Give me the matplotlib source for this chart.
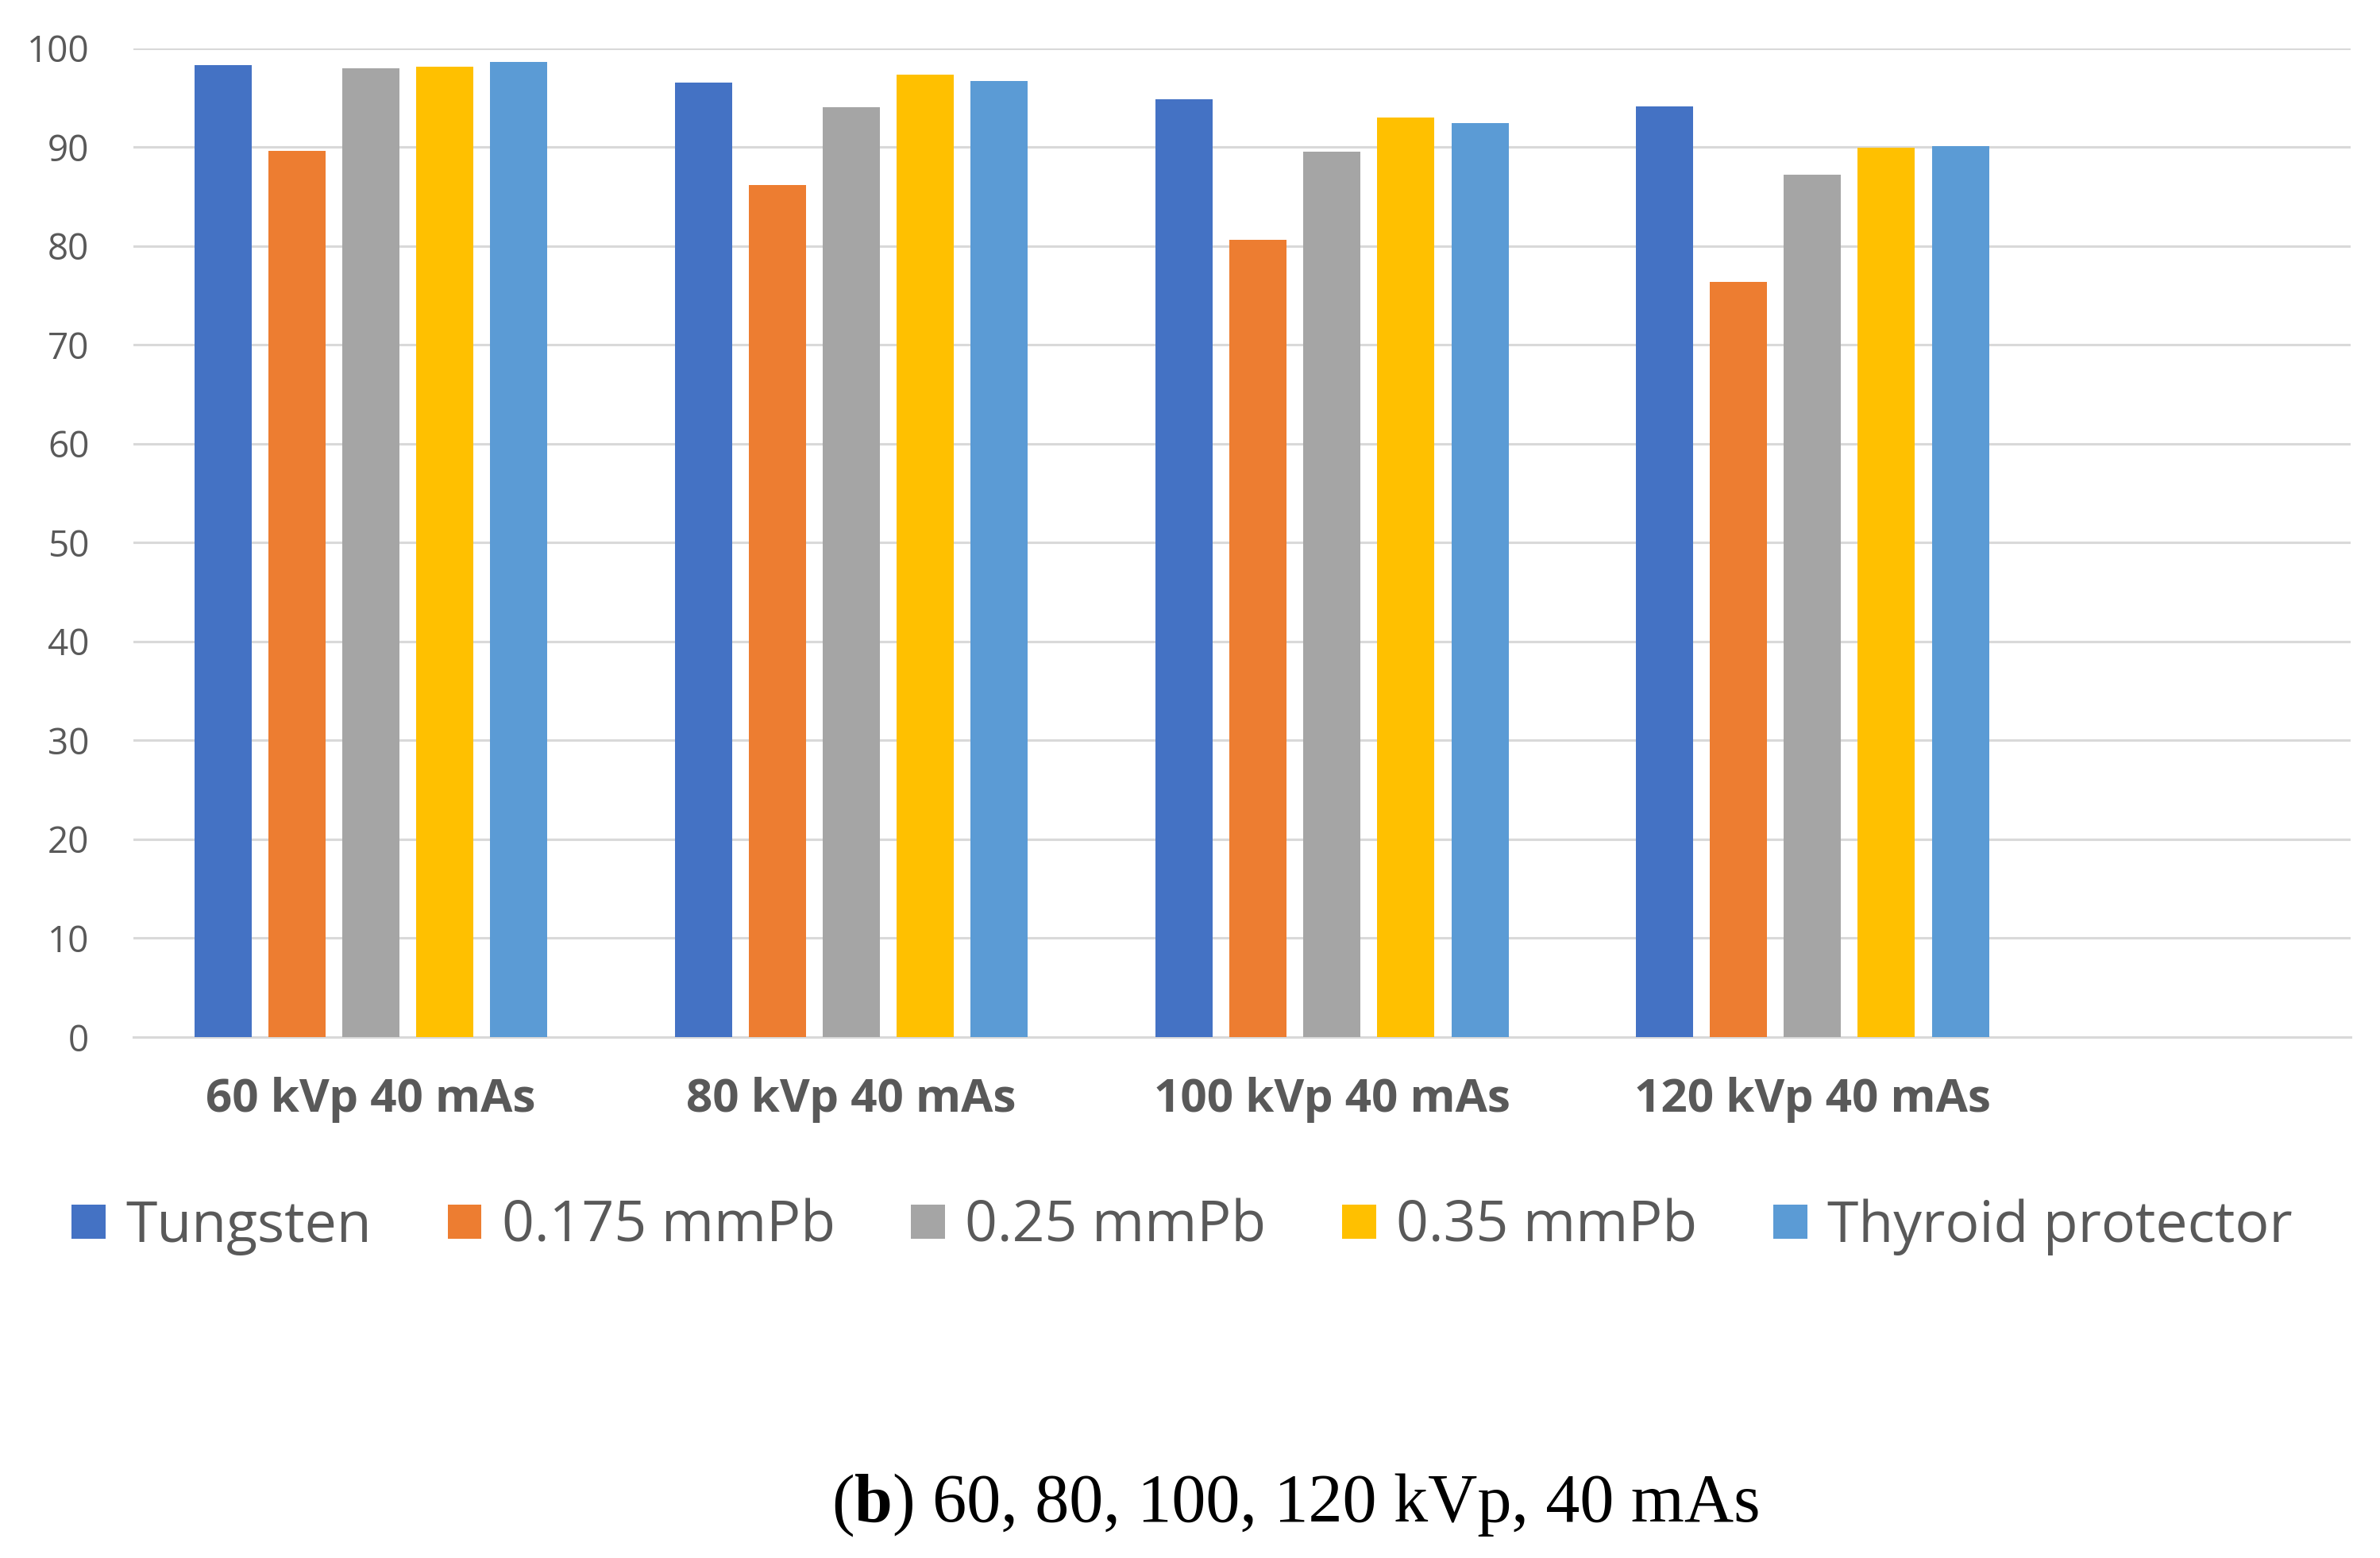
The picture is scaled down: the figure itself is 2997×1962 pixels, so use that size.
import matplotlib
matplotlib.use("Agg")
import matplotlib.pyplot as plt
import numpy as np
from matplotlib.patches import Patch

categories = ["60 kVp 40 mAs", "80 kVp 40 mAs", "100 kVp 40 mAs", "120 kVp 40 mAs"]
series_names = ["Tungsten", "0.175 mmPb", "0.25 mmPb", "0.35 mmPb", "Thyroid protector"]
tungsten = [98.3, 96.5, 94.8, 94.1]
pb_0175 = [89.6, 86.2, 80.6, 76.4]
pb_025 = [98.0, 94.0, 89.5, 87.2]
pb_035 = [98.1, 97.3, 93.0, 89.9]
thyroid = [98.6, 96.7, 92.4, 90.1]
yticks = [0, 10, 20, 30, 40, 50, 60, 70, 80, 90, 100]
caption_bold = "b"
caption_rest = ") 60, 80, 100, 120 kVp, 40 mAs"

colors = ["#4472C4", "#ED7D31", "#A5A5A5", "#FFC000", "#5B9BD5"]
series = [tungsten, pb_0175, pb_025, pb_035, thyroid]

W, H = 2997, 1962
dpi = 100
fig = plt.figure(figsize=(W / dpi, H / dpi), dpi=dpi)
fig.patch.set_facecolor("white")

left, right = 168 / W, 2960 / W
bottom = 1 - 1306 / H
top = 1 - 60.7 / H
ax = fig.add_axes([left, bottom, right - left, top - bottom])

x = np.arange(len(categories))
bw = 0.119
pitch = 0.154
for i, (vals, c) in enumerate(zip(series, colors)):
    ax.bar(x + (i - 2) * pitch, vals, width=bw, color=c, zorder=3, label=series_names[i])

ax.set_ylim(0, 100)
ax.set_xlim(-0.494, 4.12)
ax.set_yticks(yticks)
ax.set_xticks(x)
ax.set_xticklabels(categories, fontfamily="Open Sans", fontweight="bold", fontsize=42, color="#595959")
ax.tick_params(axis="y", length=0, pad=40, labelsize=33, labelcolor="#595959")
ax.tick_params(axis="x", length=0, pad=36)
for lab in ax.get_yticklabels():
    lab.set_fontfamily("Open Sans")
ax.yaxis.grid(True, color="#D9D9D9", linewidth=2.2, zorder=0)
ax.set_axisbelow(True)
for s in ["top", "right", "left"]:
    ax.spines[s].set_visible(False)
ax.spines["bottom"].set_color("#D9D9D9")
ax.spines["bottom"].set_linewidth(2.2)

handles = [Patch(facecolor=c, edgecolor="none") for c in colors]
leg = fig.legend(handles, series_names, loc="center left",
                 bbox_to_anchor=(90 / W, 1 - 1545 / H), ncol=5, frameon=False,
                 prop={"family": "Open Sans", "size": 51.5}, labelcolor="#595959",
                 handlelength=0.60, handleheight=0.56, handletextpad=0.35,
                 columnspacing=1.34, borderaxespad=0, borderpad=0)

# caption
cap_y = 1 - 1935 / H
t1 = fig.text(1047 / W, cap_y, "(", fontfamily="Liberation Serif", fontsize=62,
              va="bottom", ha="left", color="black")
a2 = ax.annotate(caption_bold, xy=(1, 0), xycoords=t1, va="bottom", ha="left",
                 fontfamily="Liberation Serif", fontsize=62, fontweight="bold",
                 color="black", annotation_clip=False)
a3 = ax.annotate(caption_rest, xy=(1, 0), xycoords=a2, va="bottom", ha="left",
                 fontfamily="Liberation Serif", fontsize=62, color="black",
                 annotation_clip=False)

fig.savefig("out.png", dpi=dpi, facecolor="white")
